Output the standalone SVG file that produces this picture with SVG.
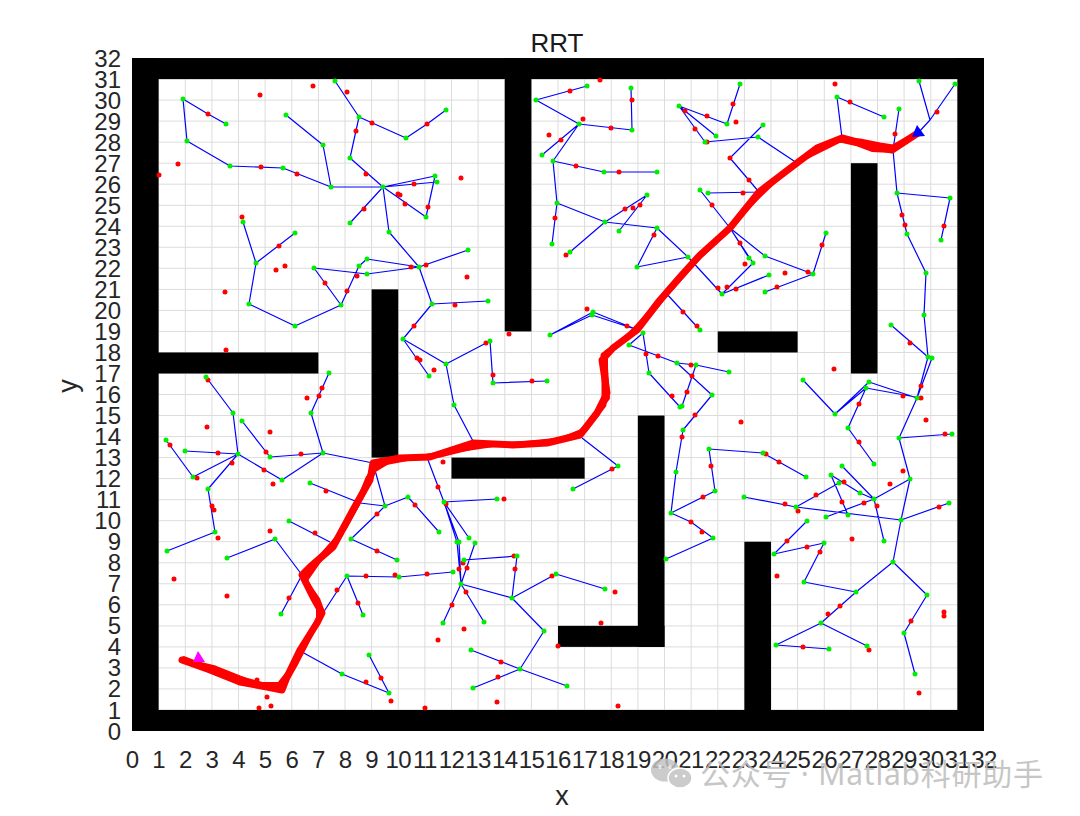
<svg xmlns="http://www.w3.org/2000/svg" width="1080" height="816" viewBox="0 0 1080 816">
<style>
.tk{font-family:"Liberation Sans",Arial,sans-serif;font-size:24px;fill:#262626}
.tx{text-anchor:middle;letter-spacing:-0.6px}
.ty{text-anchor:end}
.grid{stroke:#dcdcdc;stroke-width:1;fill:none}
.edge{stroke:#0000ff;stroke-width:1.2;fill:none;stroke-linejoin:round}
.samp{stroke:#ff0000;stroke-width:5;stroke-linecap:round;fill:none}
.node{stroke:#00ee00;stroke-width:5;stroke-linecap:round;fill:none}
.route{stroke:#ff0000;fill:none;stroke-linejoin:round;stroke-linecap:round}
</style>
<rect width="1080" height="816" fill="#ffffff"/>
<g id="grid" class="grid">
<path d="M158.6 58V731M185.3 58V731M211.9 58V731M238.5 58V731M265.1 58V731M291.8 58V731M318.4 58V731M345 58V731M371.6 58V731M398.3 58V731M424.9 58V731M451.5 58V731M478.1 58V731M504.8 58V731M531.4 58V731M558 58V731M584.6 58V731M611.3 58V731M637.9 58V731M664.5 58V731M691.1 58V731M717.8 58V731M744.4 58V731M771 58V731M797.6 58V731M824.3 58V731M850.9 58V731M877.5 58V731M904.1 58V731M930.8 58V731M957.4 58V731"/>
<path d="M132 710H984M132 688.9H984M132 667.9H984M132 646.9H984M132 625.9H984M132 604.8H984M132 583.8H984M132 562.8H984M132 541.7H984M132 520.7H984M132 499.7H984M132 478.6H984M132 457.6H984M132 436.6H984M132 415.5H984M132 394.5H984M132 373.5H984M132 352.5H984M132 331.4H984M132 310.4H984M132 289.4H984M132 268.3H984M132 247.3H984M132 226.3H984M132 205.3H984M132 184.2H984M132 163.2H984M132 142.2H984M132 121.1H984M132 100.1H984M132 79.1H984"/>
</g>
<g id="obstacles" fill="#000000" transform="matrix(26.625 0 0 -21.03 132 731)">
<rect x="0" y="0" width="32" height="1"/>
<rect x="0" y="31" width="32" height="1"/>
<rect x="0" y="0" width="1" height="32"/>
<rect x="31" y="0" width="1" height="32"/>
<rect x="14" y="19" width="1" height="13"/>
<rect x="0" y="17" width="7" height="1"/>
<rect x="9" y="13" width="1" height="8"/>
<rect x="12" y="12" width="5" height="1"/>
<rect x="19" y="4" width="1" height="11"/>
<rect x="16" y="4" width="4" height="1"/>
<rect x="22" y="18" width="3" height="1"/>
<rect x="27" y="17" width="1" height="10"/>
<rect x="23" y="0" width="1" height="9"/>
</g>
<g id="connectors">
<path class="edge" d="M183 99L208 114L226 124M183 99L187 141L230 166L283 168L331 187L383 187M286 115L323 145L331 187M335 81L359 117L406 138L427 124L446 110M359 117L350 158L383 187M350 223L383 187L389 232L419 267L468 250M383 187L435 176M383 187L437 182M383 187L426 217L435 176M243 222L256 263L249 304L295 326L341 305L359 266L367 259L419 267M295 233L256 263M341 305L314 268L367 274L419 267M419 267L432 304L488 301M432 304L403 339L429 376M403 339L446 364L490 341L493 383L547 381M446 364L454 405L474 443M206 377L233 413L238 454L185 451M238 454L208 489L215 532L167 551M238 454L193 477L166 440M238 454L282 480L323 453M242 421L270 457L323 453M323 453L311 413L329 373M323 453L373 463L385 506L408 497L439 532M310 483L360 503L385 506M385 506L377 514L351 539L397 560M289 521L330 542M275 539L227 558M275 539L302 575L281 614M347 576L399 577L453 572M347 576L363 615M347 576L323 613M302 652L342 674L389 693M369 655L389 693M428 460L444 502L497 499M444 502L469 538M444 502L457 542L461 584M444 502L459 542L461 584M475 543L461 584M464 560L517 556L512 598M461 584L443 623M461 584L484 622M461 584L512 598L556 574L605 589M512 598L544 631L520 669L471 650M520 669L473 688M520 669L567 686M573 489L618 466L582 438M666 559L713 538L691 522L671 513L715 491L709 449L763 453L806 477M671 513L676 472L683 430L712 395L677 363L629 345L643 333M643 333L649 373L680 407M677 363L696 365L729 372M696 365L682 406M665 292L700 330M550 335L593 312L638 330M550 335L592 315L638 330M637 267L688 257L722 294L753 263L730 228M657 228L688 257M722 294L769 275M730 228L749 258M730 228L700 190M730 228L765 256L813 274L826 233M813 274L765 292M759 192L708 193M759 192L730 158L763 125M705 142L758 137L797 163M679 106L727 124L740 84M679 106L705 142M679 106L716 136M536 100L587 86M536 100L579 124L632 130L631 88M579 124L542 155M579 124L553 161L604 172L657 172M553 161L557 203L552 244M557 203L605 222L657 228L637 267M605 222L647 195L619 231M605 222L570 252M837 97L884 117M837 97L842 138M899 109L893 150L897 193L950 198L941 240M897 193L907 234L926 273L924 315L928 357L917 398M918 133L930 120L919 81M930 120L955 84M891 325L928 357M932 358L917 398M803 380L835 414L866 388L921 398M835 414L869 382L917 398M866 388L848 428L874 464M917 398L899 438L952 434M899 438L910 479L901 520L949 503M910 479L874 499L860 493L831 475M842 466L874 499L826 517M874 499L884 541M848 515L831 475M744 497L796 507L901 520M796 507L839 483M901 520L893 562L927 595L904 633L915 674M893 562L856 592L821 623L776 645L829 649M821 623L867 646M856 592L804 582L824 543L774 554L807 521"/>
</g>
<g id="samples">
<path class="samp" d="M208 114h0M260 95h0M313 86h0M347 92h0M178 164h0M159 175h0M261 167h0M297 174h0M356 131h0M372 123h0M366 174h0M364 209h0M242 217h0M279 246h0M285 266h0M276 270h0M398 194h0M427 124h0M414 184h0M400 195h0M405 204h0M428 207h0M411 267h0M426 265h0M461 178h0M570 91h0M600 80h0M583 119h0M549 135h0M561 140h0M611 128h0M632 100h0M576 166h0M619 172h0M555 218h0M625 209h0M633 208h0M640 205h0M566 255h0M654 235h0M733 104h0M736 122h0M685 111h0M707 116h0M695 129h0M707 142h0M730 158h0M749 180h0M740 243h0M743 193h0M712 205h0M745 264h0M822 245h0M850 102h0M835 84h0M895 134h0M893 150h0M944 226h0M902 215h0M905 225h0M937 112h0M225 292h0M347 291h0M325 283h0M357 276h0M226 350h0M208 380h0M218 453h0M232 463h0M170 445h0M197 478h0M264 470h0M266 452h0M301 454h0M319 396h0M322 388h0M207 427h0M270 432h0M307 398h0M273 484h0M467 277h0M455 305h0M414 326h0M417 358h0M420 360h0M434 370h0M486 343h0M493 375h0M532 381h0M509 334h0M587 309h0M627 326h0M646 354h0M658 356h0M672 396h0M612 469h0M443 462h0M438 487h0M718 288h0M727 287h0M736 289h0M777 287h0M785 273h0M808 272h0M683 312h0M697 326h0M691 365h0M692 376h0M687 392h0M695 415h0M682 437h0M741 422h0M711 466h0M766 454h0M779 462h0M834 369h0M903 396h0M921 398h0M859 404h0M859 442h0M910 343h0M921 386h0M945 434h0M903 471h0M926 420h0M890 484h0M844 482h0M212 506h0M214 510h0M218 538h0M174 579h0M227 596h0M270 531h0M315 533h0M326 491h0M377 514h0M377 551h0M366 576h0M395 575h0M358 603h0M337 590h0M289 598h0M366 682h0M381 678h0M391 701h0M257 680h0M267 697h0M271 706h0M259 708h0M415 505h0M438 487h0M446 504h0M504 499h0M463 563h0M459 569h0M467 568h0M514 556h0M515 569h0M427 574h0M452 605h0M466 592h0M552 576h0M615 592h0M464 629h0M438 640h0M501 662h0M498 677h0M497 702h0M425 708h0M601 623h0M618 706h0M558 646h0M703 497h0M691 522h0M702 532h0M785 504h0M816 495h0M798 511h0M864 503h0M842 502h0M877 506h0M852 539h0M820 552h0M807 547h0M787 541h0M777 576h0M840 606h0M828 614h0M803 647h0M869 650h0M911 621h0M939 507h0M944 612h0M944 616h0M919 693h0"/>
</g>
<g id="tree-nodes">
<path class="node" d="M183 99h0M226 124h0M187 141h0M230 166h0M283 168h0M331 187h0M286 115h0M323 145h0M335 81h0M359 117h0M406 138h0M446 110h0M350 158h0M383 187h0M350 223h0M389 232h0M419 267h0M468 250h0M435 176h0M437 182h0M426 217h0M243 222h0M295 233h0M256 263h0M249 304h0M295 326h0M341 305h0M359 266h0M314 268h0M367 274h0M367 259h0M432 304h0M488 301h0M403 339h0M429 376h0M446 364h0M490 341h0M493 383h0M547 381h0M454 405h0M206 377h0M233 413h0M238 454h0M185 451h0M208 489h0M193 477h0M166 440h0M282 480h0M323 453h0M242 421h0M270 457h0M311 413h0M329 373h0M385 506h0M310 483h0M408 497h0M439 532h0M351 539h0M397 560h0M289 521h0M275 539h0M227 558h0M281 614h0M347 576h0M399 577h0M453 572h0M363 615h0M342 674h0M389 693h0M369 655h0M215 532h0M167 551h0M444 502h0M497 499h0M469 538h0M457 542h0M459 542h0M461 584h0M475 543h0M464 560h0M517 556h0M512 598h0M443 623h0M484 622h0M556 574h0M605 589h0M544 631h0M520 669h0M471 650h0M473 688h0M567 686h0M573 489h0M618 466h0M666 559h0M713 538h0M671 513h0M715 491h0M709 449h0M763 453h0M806 477h0M676 472h0M683 430h0M712 395h0M677 363h0M629 345h0M643 333h0M649 373h0M680 407h0M696 365h0M729 372h0M682 406h0M700 330h0M550 335h0M593 312h0M592 315h0M637 267h0M688 257h0M657 228h0M722 294h0M753 263h0M769 275h0M749 258h0M700 190h0M765 256h0M813 274h0M826 233h0M765 292h0M708 193h0M763 125h0M705 142h0M758 137h0M679 106h0M727 124h0M716 136h0M740 84h0M536 100h0M587 86h0M579 124h0M632 130h0M631 88h0M542 155h0M553 161h0M604 172h0M657 172h0M557 203h0M552 244h0M605 222h0M647 195h0M619 231h0M570 252h0M837 97h0M884 117h0M899 109h0M897 193h0M950 198h0M941 240h0M907 234h0M926 273h0M924 315h0M928 357h0M932 358h0M919 81h0M955 84h0M891 325h0M917 398h0M803 380h0M835 414h0M866 388h0M869 382h0M848 428h0M874 464h0M899 438h0M952 434h0M910 479h0M901 520h0M874 499h0M842 466h0M860 493h0M831 475h0M839 483h0M826 517h0M884 541h0M796 507h0M744 497h0M848 515h0M949 503h0M893 562h0M927 595h0M904 633h0M915 674h0M856 592h0M821 623h0M776 645h0M829 649h0M867 646h0M804 582h0M824 543h0M774 554h0M807 521h0"/>
</g>
<g id="route">
<polyline class="route" stroke-width="7" points="182,660 210,670 240,682 267,687 282,690 287,677 300,650 317,623 322,613 313,597 302,575 310,567 333,547 353,510 370,480 373,463 400,458 430,457 473,443 513,445 547,443 580,435 597,413 607,393 602,360 613,348 637,330 660,300 680,277 700,255 730,228 759,192 797,163 817,148 842,138 857,142 877,147 892,150 918,133"/>
<polyline class="route" stroke-width="5" points="182,660 215,668 250,682 275,688 283,686 295,665 313,630 322,611 318,600 303,578 318,560 340,535 357,505 368,478 378,464 410,458 440,455 480,445 520,444 560,440 585,430 604,405 604,375 603,355 620,343 645,320 670,290 700,256 735,222 765,188 800,160 840,140 860,141 880,145 893,147 918,133"/>
<polyline class="route" stroke-width="4" points="184,658 225,674 262,684 279,684 290,670 305,642 318,619 318,603 306,580 322,557 345,528 362,497 375,470 390,461 420,457 460,450 500,444 540,443 575,437 592,420 608,398 606,368 606,352 628,336 655,306 685,271 715,243 745,210 780,176 815,150 838,140 856,144 872,150 892,151 918,133"/>
</g>
<g id="start"><polygon points="198,651 193,662 205,662" fill="#ff00ff"/></g>
<g id="goal"><polygon points="917,125 912,137 925,136" fill="#0000ff"/></g>
<g id="labels">
<text x="557" y="52" font-family="Liberation Sans, Arial, sans-serif" font-size="26" fill="#1a1a1a" text-anchor="middle">RRT</text>
<text x="562" y="805" font-family="Liberation Sans, Arial, sans-serif" font-size="27" fill="#262626" text-anchor="middle">x</text>
<text transform="translate(77,386) rotate(-90)" font-family="Liberation Sans, Arial, sans-serif" font-size="27" fill="#262626" text-anchor="middle">y</text>
</g>
<g id="xticks" class="tk tx">
<text x="132" y="768">0</text><text x="158.6" y="768">1</text><text x="185.3" y="768">2</text><text x="211.9" y="768">3</text><text x="238.5" y="768">4</text><text x="265.1" y="768">5</text><text x="291.8" y="768">6</text><text x="318.4" y="768">7</text><text x="345" y="768">8</text><text x="371.6" y="768">9</text><text x="398.3" y="768">10</text><text x="424.9" y="768">11</text><text x="451.5" y="768">12</text><text x="478.1" y="768">13</text><text x="504.8" y="768">14</text><text x="531.4" y="768">15</text><text x="558" y="768">16</text><text x="584.6" y="768">17</text><text x="611.3" y="768">18</text><text x="637.9" y="768">19</text><text x="664.5" y="768">20</text><text x="691.1" y="768">21</text><text x="717.8" y="768">22</text><text x="744.4" y="768">23</text><text x="771" y="768">24</text><text x="797.6" y="768">25</text><text x="824.3" y="768">26</text><text x="850.9" y="768">27</text><text x="877.5" y="768">28</text><text x="904.1" y="768">29</text><text x="930.8" y="768">30</text><text x="957.4" y="768">31</text><text x="984" y="768">32</text>
</g>
<g id="yticks" class="tk ty">
<text x="121" y="739.5">0</text><text x="121" y="718.5">1</text><text x="121" y="697.4">2</text><text x="121" y="676.4">3</text><text x="121" y="655.4">4</text><text x="121" y="634.4">5</text><text x="121" y="613.3">6</text><text x="121" y="592.3">7</text><text x="121" y="571.3">8</text><text x="121" y="550.2">9</text><text x="121" y="529.2">10</text><text x="121" y="508.2">11</text><text x="121" y="487.1">12</text><text x="121" y="466.1">13</text><text x="121" y="445.1">14</text><text x="121" y="424">15</text><text x="121" y="403">16</text><text x="121" y="382">17</text><text x="121" y="361">18</text><text x="121" y="339.9">19</text><text x="121" y="318.9">20</text><text x="121" y="297.9">21</text><text x="121" y="276.8">22</text><text x="121" y="255.8">23</text><text x="121" y="234.8">24</text><text x="121" y="213.8">25</text><text x="121" y="192.7">26</text><text x="121" y="171.7">27</text><text x="121" y="150.7">28</text><text x="121" y="129.6">29</text><text x="121" y="108.6">30</text><text x="121" y="87.6">31</text><text x="121" y="66.5">32</text>
</g>
<g id="watermark" opacity="0.85">
<ellipse cx="665" cy="770" rx="14" ry="11.5" fill="#c2c2c2"/>
<ellipse cx="680" cy="778" rx="12" ry="10" fill="#c2c2c2" stroke="#ffffff" stroke-width="1.5"/>
<circle cx="660" cy="767" r="1.8" fill="#ffffff"/><circle cx="670" cy="767" r="1.8" fill="#ffffff"/>
<circle cx="676" cy="776" r="1.5" fill="#ffffff"/><circle cx="684" cy="776" r="1.5" fill="#ffffff"/>
<text x="700" y="785" font-family="Noto Sans, Noto Sans CJK SC, sans-serif" font-size="30" fill="#bdbdbd" textLength="343" lengthAdjust="spacing">公众号 · Matlab科研助手</text>
</g>
</svg>
